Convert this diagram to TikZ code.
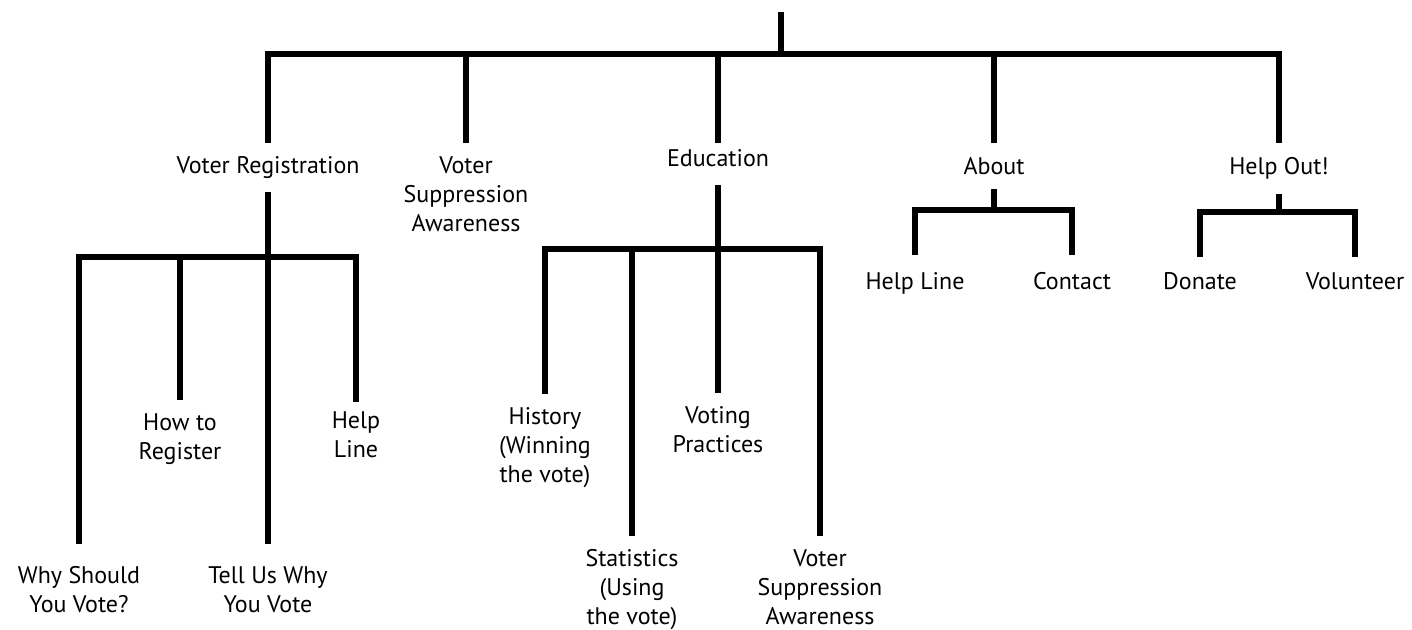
\documentclass[tikz,border=0pt]{standalone}
\usepackage{fontspec}
\setmainfont{PT Sans}
\usepackage{tikz}
\tikzstyle{page} = [align=center, anchor=north, inner xsep=0pt, inner ysep=6.5pt,
    font={\fontsize{12pt}{14.5pt}\selectfont}]
\tikzstyle{branch} = [draw, line width=2.6pt, line join=miter]

\begin{document}
\begin{tikzpicture}[x=0.5pt, y=-0.5pt]
    \useasboundingbox (0,0) rectangle (1412,629);
    % Place nodes
    % Main menu
    \coordinate (root) at (781,12);
    \coordinate (top) at (781,54);
    \node [page] (reg) at (268,143) {Voter Registration};
    \node [page] (sup) at (466,143) {Voter\\Suppression\\Awareness};
    \node [page, inner ysep=3pt] (edu) at (718,143) {Education};
    \node [page, inner ysep=7pt] (about) at (994,143) {About};
    \node [page, inner ysep=7pt] (help) at (1279,143) {Help Out!};

    % Voter Registration pages
    \coordinate (regbar) at (268,257);
    \node [page, inner ysep=11pt] (why) at (79,544) {Why Should\\You Vote?};
    \node [page] (howto) at (180,400) {How to\\Register};
    \node [page, inner ysep=11pt] (tell) at (268,544) {Tell Us Why\\You Vote};
    \node [page, inner ysep=4.5pt] (regline) at (356,402) {Help\\Line};

    % Education pages
    \coordinate (edubar) at (718,249);
    \node [page] (hist) at (545,394) {History\\(Winning\\the vote)};
    \node [page] (stats) at (632,536) {Statistics\\(Using\\the vote)};
    \node [page] (practice) at (718,393) {Voting\\Practices};
    \node [page] (edusup) at (820,536) {Voter\\Suppression\\Awareness};

    % About pages
    \coordinate (aboutbar) at (994,210);
    \node [page, inner ysep=8.5pt] (aboutline) at (915,255) {Help Line};
    \node [page, inner ysep=8.5pt] (contact) at (1072,255) {Contact};

    % Help Out! pages
    \coordinate (helpbar) at (1279,212);
    \node [page, inner ysep=7.5pt] (donate) at (1200,257) {Donate};
    \node [page, inner ysep=7.5pt] (volunteer) at (1355,257) {Volunteer};

    % Draw edges
    % Main menu
    \path [branch] (root) -- (top);
    \path [branch] (reg.north) |- (top) -| (help.north);
    \path [branch] (sup.north) -- (sup.north |- top);
    \path [branch] (edu.north) -- (edu.north |- top);
    \path [branch] (about.north) -- (about.north |- top);

    % Voter Registration
    \path [branch] (reg.south) -- (regbar);
    \path [branch] (why.north) |- (regbar) -| (regline.north);
    \path [branch] (howto.north) -- (howto.north |- regbar);
    \path [branch] (tell.north) -- (tell.north |- regbar);

    % Education
    \path [branch, shorten <=6pt] (edu.south) -- (edubar);
    \path [branch] (hist.north) |- (edubar) -| (edusup.north);
    \path [branch] (stats.north) -- (stats.north |- edubar);
    \path [branch] (practice.north) -- (practice.north |- edubar);

    % About and Help Out!
    \path [branch] (about.south) -- (aboutbar);
    \path [branch] (aboutline.north) |- (aboutbar) -| (contact.north);
    \path [branch] (help.south) -- (helpbar);
    \path [branch] (donate.north) |- (helpbar) -| (volunteer.north);

\end{tikzpicture}
\end{document}
